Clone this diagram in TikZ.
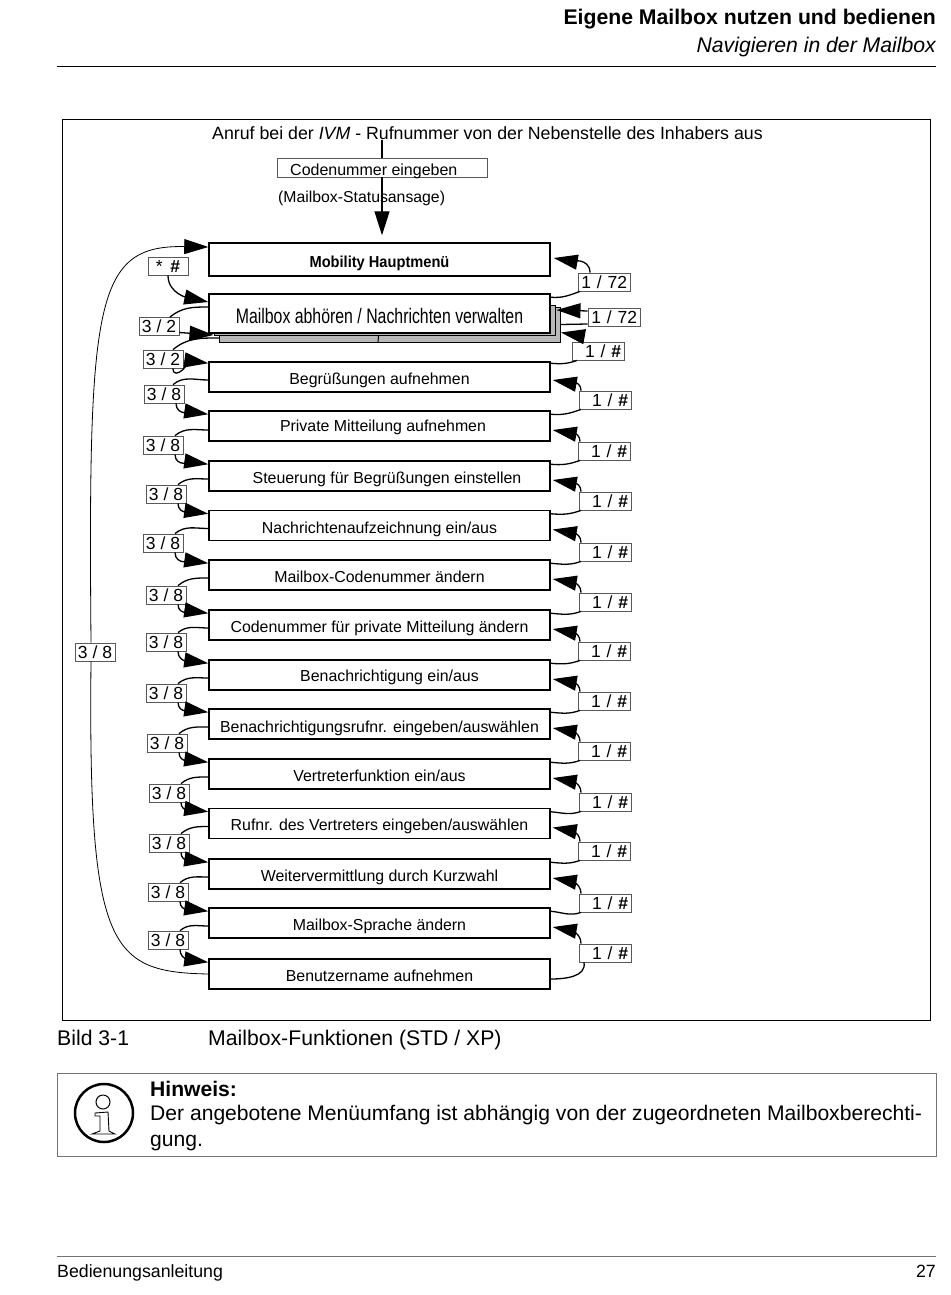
\documentclass[tikz,border=0pt]{standalone}
\usepackage{fontspec}
\setmainfont{Liberation Sans}
\usetikzlibrary{arrows.meta}

\begin{document}
\begin{tikzpicture}[
  x=1pt,y=-1pt,
  font=\fontsize{15.9}{18}\selectfont,
  block/.style={draw,line width=1.5pt,fill=white,minimum width=341pt,minimum height=30pt,inner sep=0pt,text height=14pt,text depth=0pt},
  stack/.style={draw,line width=1pt,fill=gray!55,inner sep=0pt},
  tag/.style={draw=black!65,line width=.8pt,fill=white,minimum height=18pt,inner sep=0pt,font=\fontsize{17.5}{20}\selectfont},
  lefttag/.style={tag,minimum width=40pt},
  righttag/.style={tag,text width=46pt,align=right,inner xsep=3pt},
  plaintext/.style={font=\fontsize{21.2}{24}\selectfont,inner sep=0pt,anchor=base west},
  headtip/.style={-{Triangle[length=24pt,width=15pt]}},
  nextleft/.style={headtip,line width=1.3pt,out=-90,in=172},
  backleft/.style={line width=1.3pt,out=180,in=40},
  nextright/.style={headtip,line width=1.3pt,out=90,in=-10},
  backright/.style={line width=1.3pt,out=-5,in=-160}]

  \useasboundingbox (0,0) rectangle (950,1295);

  % Page head and foot
  \node[plaintext,anchor=base east,font=\fontsize{21.2}{24}\selectfont\bfseries] (head) at (936,25) {Eigene Mailbox nutzen und bedienen};
  \node[plaintext,anchor=base east,font=\fontsize{21.2}{24}\selectfont\itshape] (subhead) at (936,53) {Navigieren in der Mailbox};
  \draw[line width=1pt] (57,67) -- (936,67);
  \draw[line width=.8pt,black!55] (57,1256) -- (936,1256);
  \node[plaintext,font=\fontsize{17.75}{20}\selectfont] (foot) at (57,1277) {Bedienungsanleitung};
  \node[plaintext,anchor=base east,font=\fontsize{17.75}{20}\selectfont] (page) at (936,1277) {27};

  % Frame and entry
  \draw[line width=.8pt] (62,119) rectangle (930,1020);
  \node[plaintext,font=\fontsize{17.75}{21}\selectfont] (call) at (212,139.5) {Anruf bei der \textit{IVM} - Rufnummer von der Nebenstelle des Inhabers aus};
  \node[draw=black!65,line width=.8pt,minimum width=210pt,minimum height=19pt,inner sep=0pt] (code) at (382,167.5) {};
  \node[plaintext,font=\fontsize{16}{19}\selectfont] (codetext) at (290,175) {Codenummer eingeben};
  \node[plaintext,font=\fontsize{15.8}{19}\selectfont] (status) at (278,202) {(Mailbox-Statusansage)};

  % Menu boxes
  \node[block,minimum height=33pt,text height=16pt] (MH) at (379.5,259.5) {\scalebox{.92}[1]{\bfseries Mobility Hauptmenü}};
  \node[stack,minimum width=341pt,minimum height=35pt] (MA2) at (390,324.5) {};
  \node[stack,minimum width=341pt,minimum height=30pt] (MA1) at (384.5,320) {};
  \draw[line width=1pt] ([xshift=-6pt]MA1.south) -- ([xshift=-12pt]MA2.south);
  \node[block,minimum height=39pt,text height=19pt,font=\fontsize{21}{24}\selectfont] (MA) at (379.5,313.5) {\scalebox{.755}[1]{Mailbox abhören / Nachrichten verwalten}};
  \node[block] (BA) at (379.5,377) {Begrüßungen aufnehmen};
  \node[block,text height=10pt] (PM) at (379.5,426) {\hspace*{7pt}Private Mitteilung aufnehmen};
  \node[block] (SB) at (379.5,476) {\hspace*{15pt}Steuerung für Begrüßungen einstellen};
  \node[block,text height=15pt] (NA) at (379.5,525.5) {Nachrichtenaufzeichnung ein/aus};
  \node[block,text height=15pt] (MC) at (379.5,575) {Mailbox-Codenummer ändern};
  \node[block,text height=15pt] (CP) at (379.5,625) {Codenummer für private Mitteilung ändern};
  \node[block,text height=12pt] (BE) at (379.5,675) {\hspace*{20pt}Benachrichtigung ein/aus};
  \node[block,text height=17pt] (BR) at (379.5,724) {Benachrichtigungsrufnr. eingeben/auswählen};
  \node[block,text height=15pt] (VE) at (379.5,774) {Vertreterfunktion ein/aus};
  \node[block] (RV) at (379.5,823.5) {Rufnr. des Vertreters eingeben/auswählen};
  \node[block] (WK) at (379.5,874) {Weitervermittlung durch Kurzwahl};
  \node[block,text height=15pt] (MS) at (379.5,923) {Mailbox-Sprache ändern};
  \node[block] (BN) at (379.5,974) {Benutzername aufnehmen};

  % Tags on the left
  \node[lefttag] (Lback) at (95,652) {3 / 8};
  \node[lefttag] (LMA) at (168,266) {* \,\textbf{\#}};
  \node[lefttag] (LMA1) at (159,326.5) {3 / 2};
  \node[lefttag] (LMA2) at (163,359) {3 / 2};
  \node[lefttag] (LBA) at (164,394) {3 / 8};
  \node[lefttag] (LPM) at (163,445) {3 / 8};
  \node[lefttag] (LSB) at (166,494) {3 / 8};
  \node[lefttag] (LNA) at (163,543) {3 / 8};
  \node[lefttag] (LMC) at (166,595) {3 / 8};
  \node[lefttag] (LCP) at (166,642) {3 / 8};
  \node[lefttag] (LBE) at (166,693) {3 / 8};
  \node[lefttag] (LBR) at (167,743) {3 / 8};
  \node[lefttag] (LVE) at (169,793) {3 / 8};
  \node[lefttag] (LRV) at (169,843) {3 / 8};
  \node[lefttag] (LWK) at (168,892) {3 / 8};
  \node[lefttag] (LMS) at (168,940) {3 / 8};

  % Tags on the right
  \node[righttag] (RMH) at (604,282) {1 / 72};
  \node[righttag] (RMA) at (614,317) {1 / 72};
  \node[righttag] (RMB) at (598,351) {1 / \textbf{\#}};
  \node[righttag] (RBA) at (605,400) {1 / \textbf{\#}};
  \node[righttag] (RPM) at (604,451) {1 / \textbf{\#}};
  \node[righttag] (RSB) at (605,501) {1 / \textbf{\#}};
  \node[righttag] (RNA) at (605,552) {1 / \textbf{\#}};
  \node[righttag] (RMC) at (605,602) {1 / \textbf{\#}};
  \node[righttag] (RCP) at (604,651) {1 / \textbf{\#}};
  \node[righttag] (RBE) at (604,701) {1 / \textbf{\#}};
  \node[righttag] (RBR) at (604,751) {1 / \textbf{\#}};
  \node[righttag] (RVE) at (605,802) {1 / \textbf{\#}};
  \node[righttag] (RRV) at (604,851) {1 / \textbf{\#}};
  \node[righttag] (RWK) at (605,903) {1 / \textbf{\#}};
  \node[righttag] (RMS) at (605,953) {1 / \textbf{\#}};

  % Entry arrows
  \draw[line width=1.3pt] (call.south -| code.north) -- (code.north);
  \draw[headtip,line width=1.3pt,shorten >=7pt] (code.south) -- (code.south |- MH.north);

  % Arrows on the left
  \draw[line width=.8pt] (BN.west) .. controls (110,972) and (88,950) .. ([xshift=-4pt]Lback.south);
  \draw[headtip,line width=.8pt] ([xshift=-4pt]Lback.north) .. controls (88,300) and (95,245) .. ([yshift=12.5pt]MH.west);
  \draw[nextleft,in=168] (LMA.south) to ([yshift=11.5pt]MA.west);
  \draw[backleft] ([yshift=6.5pt]MA.west) to ([xshift=11pt]LMA1.north);
  \draw[headtip,line width=1.3pt] ([yshift=-6pt]LMA1.east) -- ([yshift=-15pt]MA1.west);
  \draw[backleft] ([yshift=-13.5pt]MA2.west) to ([xshift=10pt]LMA2.north);
  \draw[nextleft] ([xshift=10pt]LMA2.south) to ([yshift=-2pt]BA.north west);
  \draw[backleft] ([yshift=-3pt]BA.west) to ([xshift=9pt]LBA.north);
  \draw[nextleft] ([xshift=12pt]LBA.south) to ([yshift=-4pt]PM.north west);
  \draw[backleft] ([yshift=-4pt]PM.west) to ([xshift=12pt]LPM.north);
  \draw[nextleft] ([xshift=12pt]LPM.south) to ([yshift=-4pt]SB.north west);
  \draw[backleft] ([yshift=-3pt]SB.west) to ([xshift=12pt]LSB.north);
  \draw[nextleft] ([xshift=12pt]LSB.south) to ([yshift=-4pt]NA.north west);
  \draw[backleft] ([yshift=-3pt]NA.west) to ([xshift=12pt]LNA.north);
  \draw[nextleft] ([xshift=12pt]LNA.south) to ([yshift=-4pt]MC.north west);
  \draw[backleft] ([yshift=-3pt]MC.west) to ([xshift=12pt]LMC.north);
  \draw[nextleft] ([xshift=12pt]LMC.south) to ([yshift=-4pt]CP.north west);
  \draw[backleft] ([yshift=-3pt]CP.west) to ([xshift=12pt]LCP.north);
  \draw[nextleft] ([xshift=12pt]LCP.south) to ([yshift=-4pt]BE.north west);
  \draw[backleft] ([yshift=-3pt]BE.west) to ([xshift=12pt]LBE.north);
  \draw[nextleft] ([xshift=12pt]LBE.south) to ([yshift=-4pt]BR.north west);
  \draw[backleft] ([yshift=-3pt]BR.west) to ([xshift=12pt]LBR.north);
  \draw[nextleft] ([xshift=12pt]LBR.south) to ([yshift=-4pt]VE.north west);
  \draw[backleft] ([yshift=-3pt]VE.west) to ([xshift=12pt]LVE.north);
  \draw[nextleft] ([xshift=12pt]LVE.south) to ([yshift=-4pt]RV.north west);
  \draw[backleft] ([yshift=-3pt]RV.west) to ([xshift=12pt]LRV.north);
  \draw[nextleft] ([xshift=12pt]LRV.south) to ([yshift=-4pt]WK.north west);
  \draw[backleft] ([yshift=-3pt]WK.west) to ([xshift=12pt]LWK.north);
  \draw[nextleft] ([xshift=12pt]LWK.south) to ([yshift=-4pt]MS.north west);
  \draw[backleft] ([yshift=-3pt]MS.west) to ([xshift=12pt]LMS.north);
  \draw[nextleft] ([xshift=12pt]LMS.south) to ([yshift=-4pt]BN.north west);

  % Arrows on the right
  \draw[nextright] ([xshift=-14pt]RMH.north) to ([xshift=3pt,yshift=1.5pt]MH.east);
  \draw[backright] ([yshift=-4pt]MA.north east) to ([xshift=-24pt]RMH.south);
  \draw[headtip,line width=1.3pt] ([yshift=6pt]RMA.west) -- ([xshift=1pt,yshift=10pt]MA1.east);
  \draw[line width=1.3pt] ([yshift=-7pt]RMA.west) -- (MA2.east);
  \draw[nextright] ([xshift=-15pt]RMB.north) to ([yshift=-8pt]MA2.east);
  \draw[backright] ([yshift=-2pt]BA.north east) to ([xshift=-21pt]RMB.south);
  \draw[nextright] ([xshift=-24pt]RBA.north) to ([xshift=2pt,yshift=-3pt]BA.east);
  \draw[backright] ([yshift=-4pt]PM.north east) to ([xshift=-24pt]RBA.south);
  \draw[nextright] ([xshift=-24pt]RPM.north) to ([xshift=2pt,yshift=-4pt]PM.east);
  \draw[backright] ([yshift=-4pt]SB.north east) to ([xshift=-24pt]RPM.south);
  \draw[nextright] ([xshift=-24pt]RSB.north) to ([xshift=2pt,yshift=-4pt]SB.east);
  \draw[backright] ([yshift=-4pt]NA.north east) to ([xshift=-24pt]RSB.south);
  \draw[nextright] ([xshift=-24pt]RNA.north) to ([xshift=2pt,yshift=-4pt]NA.east);
  \draw[backright] ([yshift=-4pt]MC.north east) to ([xshift=-24pt]RNA.south);
  \draw[nextright] ([xshift=-24pt]RMC.north) to ([xshift=2pt,yshift=-4pt]MC.east);
  \draw[backright] ([yshift=-4pt]CP.north east) to ([xshift=-24pt]RMC.south);
  \draw[nextright] ([xshift=-24pt]RCP.north) to ([xshift=2pt,yshift=-4pt]CP.east);
  \draw[backright] ([yshift=-4pt]BE.north east) to ([xshift=-24pt]RCP.south);
  \draw[nextright] ([xshift=-24pt]RBE.north) to ([xshift=2pt,yshift=-4pt]BE.east);
  \draw[backright] ([yshift=-4pt]BR.north east) to ([xshift=-24pt]RBE.south);
  \draw[nextright] ([xshift=-24pt]RBR.north) to ([xshift=2pt,yshift=-4pt]BR.east);
  \draw[backright] ([yshift=-4pt]VE.north east) to ([xshift=-24pt]RBR.south);
  \draw[nextright] ([xshift=-24pt]RVE.north) to ([xshift=2pt,yshift=-4pt]VE.east);
  \draw[backright] ([yshift=-4pt]RV.north east) to ([xshift=-24pt]RVE.south);
  \draw[nextright] ([xshift=-24pt]RRV.north) to ([xshift=2pt,yshift=-4pt]RV.east);
  \draw[backright] ([yshift=-4pt]WK.north east) to ([xshift=-24pt]RRV.south);
  \draw[nextright] ([xshift=-24pt]RWK.north) to ([xshift=2pt,yshift=-4pt]WK.east);
  \draw[backright] ([yshift=-4pt]MS.north east) to ([xshift=-24pt]RWK.south);
  \draw[nextright] ([xshift=-24pt]RMS.north) to ([xshift=2pt,yshift=-4pt]MS.east);
  \draw[backright,out=0,in=-80] ([yshift=-5pt]BN.east) to ([xshift=-21pt]RMS.south);

  % Caption and note
  \node[plaintext] (figno) at (57,1045) {Bild 3-1};
  \node[plaintext] (figname) at (208,1045) {Mailbox-Funktionen (STD / XP)};
  \draw[black!55,line width=.8pt] (57,1073) rectangle (936,1156);
  \node[draw,circle,line width=2.5pt,minimum size=58pt] (info) at (104,1113) {};
  \draw[line width=1pt] (103,1102) circle (7);
  \draw[line width=.9pt] (95,1113) -- (108,1112) -- (109,1131) -- (115,1134) -- (92,1134) -- (100,1131) -- (100,1116) -- (95,1116) -- cycle;
  \node[plaintext,font=\fontsize{21.1}{24}\selectfont\bfseries] (hint) at (150,1096) {Hinweis:};
  \node[plaintext,font=\fontsize{21.1}{24}\selectfont] (hintone) at (150,1120) {Der angebotene Menüumfang ist abhängig von der zugeordneten Mailboxberechti-};
  \node[plaintext,font=\fontsize{21.1}{24}\selectfont] (hinttwo) at (150,1146) {gung.};
\end{tikzpicture}
\end{document}
